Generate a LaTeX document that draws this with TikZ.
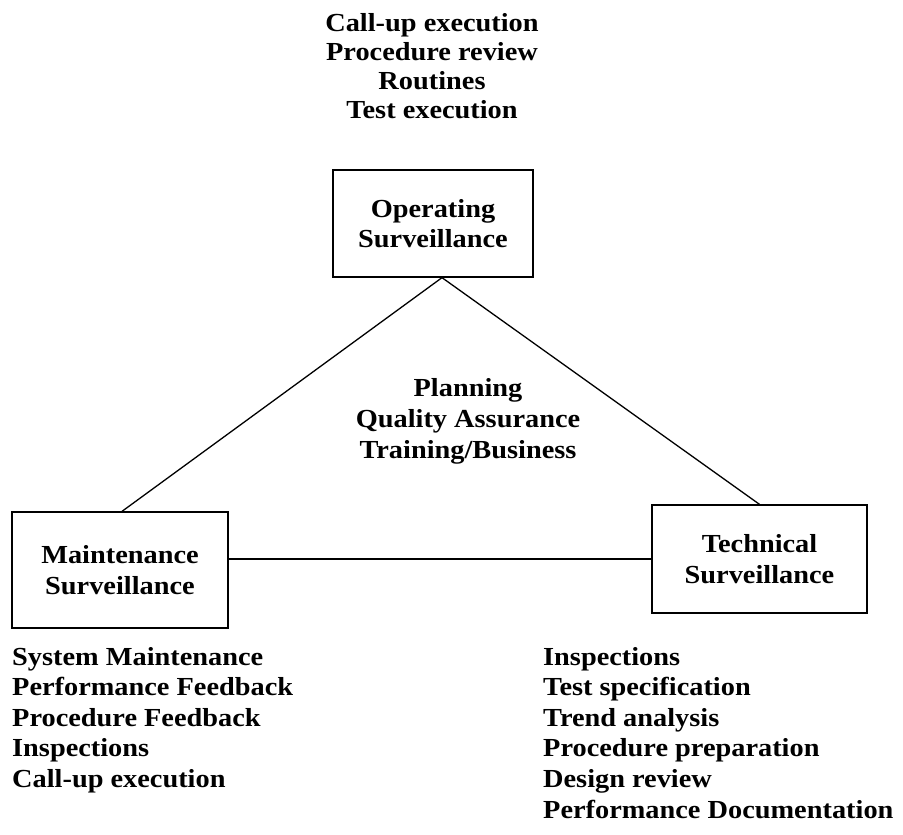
\documentclass[tikz,border=0pt]{standalone}
\usepackage{fontspec}
\setmainfont{Liberation Serif}[FakeStretch=1.09]
\begin{document}
\begin{tikzpicture}[x=1pt,y=-1pt,
  txt/.style={font=\fontsize{26}{30.6}\selectfont\bfseries, inner sep=0pt},
  box/.style={draw, line width=1.3pt, txt, align=center},
  conn/.style={line width=1.3pt}]
\useasboundingbox (0,0) rectangle (903,835);
\node[txt, align=center, anchor=base, font=\fontsize{26}{29}\selectfont\bfseries] (top) at (432,118) {Call-up execution\\Procedure review\\Routines\\Test execution};
\node[box, minimum width=200, minimum height=107] (op) at (433,223.5) {Operating\\Surveillance};
\node[txt, align=center, anchor=base] (mid) at (468,458) {Planning\\Quality Assurance\\Training/Business};
\node[box, minimum width=216, minimum height=116] (mt) at (120,570) {Maintenance\\Surveillance};
\node[box, minimum width=215, minimum height=108] (ts) at (759.5,559) {Technical\\Surveillance};
\node[txt, align=left, anchor=base west] (ml) at (12,787.4) {System Maintenance\\Performance Feedback\\Procedure Feedback\\Inspections\\Call-up execution};
\node[txt, align=left, anchor=base west] (tl) at (543,818) {Inspections\\Test specification\\Trend analysis\\Procedure preparation\\Design review\\Performance Documentation};
\coordinate (apex) at ([xshift=9pt]op.south);
\draw[conn] (apex) -- ([xshift=2pt]mt.north);
\draw[conn] (apex) -- (ts.north);
\draw[conn] (ts.west) -- (ts.west -| mt.east);
\end{tikzpicture}
\end{document}
